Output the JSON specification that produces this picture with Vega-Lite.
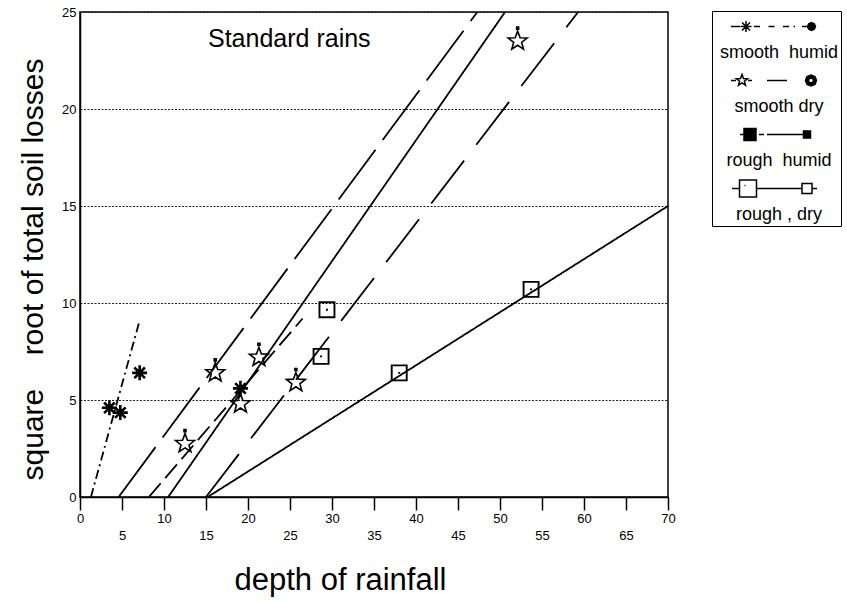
{
  "$schema": "https://vega.github.io/schema/vega-lite/v6.json",
  "width": 588,
  "height": 485,
  "autosize": "none",
  "padding": {"left": 80, "top": 12, "right": 179, "bottom": 105},
  "background": "white",
  "config": {
    "view": {"stroke": "black", "strokeWidth": 1.5},
    "font": "Liberation Sans",
    "axis": {"labelFont": "Liberation Sans", "titleFont": "Liberation Sans", "labelColor": "black", "titleColor": "black", "titleFontWeight": "normal", "domainColor": "black", "tickColor": "black"},
    "legend": {"orient": "none", "legendX": 632, "legendY": -1, "title": null, "padding": 2, "strokeColor": "black", "fillColor": "white", "symbolSize": 400, "symbolOffset": 49, "labelOffset": -6, "labelAlign": "center", "labelBaseline": "top", "labelFontSize": 18, "labelFont": "Liberation Sans", "labelColor": "black", "rowPadding": 5, "gridAlign": "all", "labelLimit": 0, "symbolStrokeWidth": 1.5, "symbolStrokeColor": "black", "symbolOpacity": 1}
  },
  "title": {"text": "Standard rains", "anchor": "start", "frame": "group", "dx": 128, "offset": -46, "fontSize": 25, "font": "Liberation Sans", "fontWeight": "normal", "color": "black"},
  "datasets": {
    "points": [
      {"series": "smooth humid", "x": 3.5, "y": 4.6},
      {"series": "smooth humid", "x": 4.8, "y": 4.35},
      {"series": "smooth humid", "x": 7.1, "y": 6.4},
      {"series": "smooth humid", "x": 19.1, "y": 5.6},
      {"series": "smooth dry", "x": 12.5, "y": 2.75},
      {"series": "smooth dry", "x": 16.1, "y": 6.4},
      {"series": "smooth dry", "x": 19.1, "y": 4.8},
      {"series": "smooth dry", "x": 21.3, "y": 7.2},
      {"series": "smooth dry", "x": 25.7, "y": 5.9},
      {"series": "smooth dry", "x": 52.1, "y": 23.5},
      {"series": "rough dry", "x": 28.7, "y": 7.25},
      {"series": "rough dry", "x": 29.4, "y": 9.65},
      {"series": "rough dry", "x": 38.0, "y": 6.4},
      {"series": "rough dry", "x": 53.7, "y": 10.7}
    ],
    "lines": [
      {"line": "L1", "x": 1.3, "y": 0}, {"line": "L1", "x": 7.1, "y": 9.1},
      {"line": "L2", "x": 4.6, "y": 0}, {"line": "L2", "x": 47.3, "y": 25},
      {"line": "L3", "x": 8.2, "y": 0}, {"line": "L3", "x": 26.5, "y": 9.2},
      {"line": "L4", "x": 10.5, "y": 0}, {"line": "L4", "x": 50.6, "y": 25},
      {"line": "L5", "x": 15.0, "y": 0}, {"line": "L5", "x": 59.3, "y": 25},
      {"line": "L6", "x": 15.2, "y": 0}, {"line": "L6", "x": 70, "y": 15}
    ]
  },
  "layer": [
    {
      "data": {"name": "lines"},
      "mark": {"type": "line", "color": "black", "strokeWidth": 1.8, "clip": true},
      "encoding": {
        "x": {"field": "x", "type": "quantitative", "scale": {"domain": [0, 70], "nice": false, "zero": false},
          "axis": {"title": "depth of rainfall", "values": [0, 5, 10, 15, 20, 25, 30, 35, 40, 45, 50, 55, 60, 65, 70], "grid": false, "tickSize": 13, "tickWidth": 1.5, "domainWidth": 1.5, "labelFontSize": 13, "labelPadding": 2, "labelBaseline": "top", "labelLineHeight": 17, "labelExpr": "datum.value % 10 === 0 ? datum.label : ['', datum.label]", "labelFlush": false, "labelOverlap": false, "titleFontSize": 31, "titleX": 260, "titleY": 83, "titleBaseline": "middle", "titleAlign": "center"}},
        "y": {"field": "y", "type": "quantitative", "scale": {"domain": [0, 25], "nice": false},
          "axis": {"title": "square\u00a0\u00a0\u00a0\u00a0root of total soil losses", "values": [0, 5, 10, 15, 20, 25], "grid": true, "gridDash": [2, 1.5], "gridColor": "#222222", "gridWidth": 1, "ticks": false, "labelPadding": 4, "labelFontSize": 13, "domainWidth": 1.5, "titleFontSize": 30, "titleX": -47, "titleY": 257, "titleAlign": "center", "titleBaseline": "middle"}},
        "strokeDash": {"field": "line", "type": "nominal", "scale": {"domain": ["L1", "L2", "L3", "L4", "L5", "L6"], "range": [[9, 4, 2, 4], [62, 12], [18, 7], [1, 0], [54, 20], [1, 0]]}, "legend": null}
      }
    },
    {
      "data": {"name": "points"},
      "mark": {"type": "point", "filled": false, "stroke": "black", "size": 400, "opacity": 1},
      "encoding": {
        "x": {"field": "x", "type": "quantitative"},
        "y": {"field": "y", "type": "quantitative"},
        "shape": {"field": "series", "type": "nominal", "scale": {"domain": ["smooth humid", "smooth dry", "rough dry"], "range": [
          "M-0.75,0L0.75,0M0,-0.75L0,0.75M-0.53,-0.53L0.53,0.53M-0.53,0.53L0.53,-0.53M-0.2,-0.2L0.2,-0.2L0.2,0.2L-0.2,0.2Z",
          "M0,-1L0.247,-0.34L0.951,-0.309L0.399,0.13L0.588,0.809L0,0.42L-0.588,0.809L-0.399,0.13L-0.951,-0.309L-0.247,-0.34ZM-0.1,-1.4L0.1,-1.4L0.1,-1.2L-0.1,-1.2Z",
          "M-0.75,-0.75L0.75,-0.75L0.75,0.75L-0.75,0.75ZM-0.1,0L0.1,0"
        ]}, "legend": null},
        "strokeWidth": {"field": "series", "type": "nominal", "scale": {"type": "ordinal", "domain": ["smooth humid", "smooth dry", "rough dry"], "range": [2.6, 1.6, 1.9]}, "legend": null}
      }
    },
    {
      "data": {"values": []},
      "mark": {"type": "point", "filled": false, "color": "black", "strokeWidth": 1.5},
      "encoding": {
        "shape": {"field": "series", "type": "nominal", "sort": null, "scale": {"domain": ["smooth humid", "smooth dry", "rough humid", "rough , dry"], "range": [
          "M-4.3,0.25L-3.4,0.25M-3.35,0.25L-2.25,0.25M-2.8,-0.3L-2.8,0.8M-3.2,-0.15L-2.4,0.65M-3.2,0.65L-2.4,-0.15M-2.0,0.25L-1.4,0.25M-0.55,0.25L0.05,0.25M0.9,0.25L1.5,0.25M1.95,0.25L2.1,0.25M2.8,0.25L3.35,0.25M4.15,0.25L4.03,0.53L3.75,0.65L3.47,0.53L3.35,0.25L3.47,-0.03L3.75,-0.15L4.03,-0.03Z",
          "M-4.3,0.25L-3.8,0.25M-3.2,-0.35L-3.053,0.048L-2.629,0.065L-2.962,0.327L-2.847,0.735L-3.2,0.5L-3.553,0.735L-3.438,0.327L-3.771,0.065L-3.347,0.048ZM-2.6,0.25L-2.2,0.25M-0.7,0.25L1.3,0.25M4.25,0.25L4.1,0.64L3.7,0.8L3.3,0.64L3.15,0.25L3.3,-0.14L3.7,-0.3L4.1,-0.14ZM4.1,0.25L3.98,0.53L3.7,0.65L3.42,0.53L3.3,0.25L3.42,-0.03L3.7,-0.15L3.98,-0.03ZM3.95,0.25L3.88,0.43L3.7,0.5L3.52,0.43L3.45,0.25L3.52,0.07L3.7,0L3.88,0.07Z",
          "M-3.4,0.25L-3.0,0.25M-3.0,-0.35L-1.8,-0.35L-1.8,0.85L-3.0,0.85ZM-1.5,0.25L-1.0,0.25M-0.7,0.25L2.95,0.25M2.95,-0.1L3.65,-0.1L3.65,0.6L2.95,0.6Z",
          "M-4.2,0.25L-3.45,0.25M-3.45,-0.6L-1.75,-0.6L-1.75,1.1L-3.45,1.1ZM-2.95,-0.05L-2.85,-0.05M-1.75,0.25L2.8,0.25M2.8,-0.25L3.8,-0.25L3.8,0.75L2.8,0.75ZM3.8,0.25L4.3,0.25"
        ]},
          "legend": {"labelExpr": "['', replace(datum.label, ' humid', '\u00a0\u00a0humid')]"}},
        "fill": {"field": "series", "type": "nominal", "sort": null, "scale": {"domain": ["smooth humid", "smooth dry", "rough humid", "rough , dry"], "range": ["black", "transparent", "black", "transparent"]},
          "legend": {"labelExpr": "['', replace(datum.label, ' humid', '\u00a0\u00a0humid')]"}},
        "stroke": {"field": "series", "type": "nominal", "sort": null, "scale": {"domain": ["smooth humid", "smooth dry", "rough humid", "rough , dry"], "range": ["black", "black", "black", "black"]},
          "legend": {"labelExpr": "['', replace(datum.label, ' humid', '\u00a0\u00a0humid')]"}}
      }
    }
  ],
  "resolve": {"scale": {"shape": "independent", "fill": "independent", "stroke": "independent"}}
}
